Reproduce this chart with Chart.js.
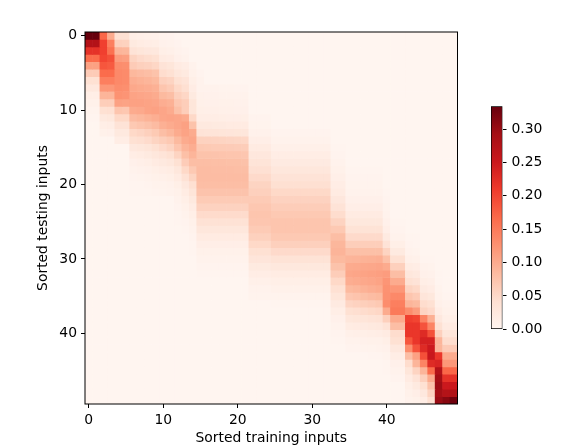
<!DOCTYPE html>
<html>
<head>
<meta charset="utf-8">
<script src="https://cdn.jsdelivr.net/npm/chart.js@4.4.0/dist/chart.umd.min.js"></script>
<style>
  html, body { margin: 0; padding: 0; background: #fff; }
  #wrap { position: relative; width: 574px; height: 447px; }
  #heat { position: absolute; left: 0; top: 0; }
  #cbar { position: absolute; left: 470px; top: 0; }
</style>
</head>
<body>
<div id="wrap">
  <canvas id="heat" width="574" height="447"></canvas>
  <canvas id="cbar" width="104" height="447"></canvas>
</div>
<script>

// attention weights, one row per sorted testing input.
// each row keeps only its visible band: first column + values, the rest is 0
var nTrain = 50;
var nTest = 50;
var trainTicks = [0, 10, 20, 30, 40];
var testTicks = [0, 10, 20, 30, 40];
var cbarTicks = [0, 0.05, 0.10, 0.15, 0.20, 0.25, 0.30];

var bandStart = [
	0, 0, 0, 0, 0, 0, 0, 0, 0, 0,
	0, 0, 2, 2, 4, 6, 6, 6, 6, 6,
	6, 6, 12, 12, 12, 12, 13, 14, 14, 14,
	15, 15, 15, 22, 22, 22, 25, 33, 33, 33,
	33, 33, 35, 38, 40, 40, 41, 43, 43, 43
];

var bandValues = [
	[0.334,0.334,0.17,0.10,0.04,0.04,0.012,0.01,0.008,0.007,0.004,0.003],
	[0.277,0.277,0.205,0.145,0.06,0.058,0.022,0.018,0.016,0.014,0.007,0.006,0.003],
	[0.22,0.22,0.205,0.16,0.09,0.088,0.035,0.03,0.027,0.025,0.012,0.01,0.005,0.003],
	[0.165,0.165,0.2,0.19,0.115,0.112,0.055,0.048,0.044,0.04,0.02,0.017,0.009,0.006],
	[0.11,0.11,0.185,0.18,0.13,0.128,0.065,0.06,0.057,0.052,0.035,0.03,0.02,0.016,0.005],
	[0.065,0.065,0.165,0.165,0.135,0.133,0.087,0.083,0.08,0.075,0.045,0.04,0.028,0.022,0.008,0.003],
	[0.04,0.04,0.145,0.145,0.135,0.133,0.097,0.093,0.09,0.085,0.06,0.055,0.04,0.033,0.012,0.005],
	[0.025,0.025,0.12,0.12,0.13,0.128,0.103,0.1,0.098,0.094,0.072,0.066,0.05,0.042,0.017,0.006,0.005,0.005,0.004,0.004,0.003,0.003],
	[0.014,0.014,0.09,0.09,0.125,0.123,0.108,0.106,0.104,0.1,0.085,0.08,0.06,0.052,0.022,0.008,0.007,0.007,0.006,0.006,0.005,0.005],
	[0.008,0.008,0.062,0.062,0.11,0.108,0.11,0.11,0.108,0.106,0.098,0.094,0.07,0.062,0.03,0.01,0.009,0.009,0.008,0.008,0.007,0.007],
	[0.004,0.004,0.04,0.042,0.072,0.07,0.1,0.102,0.108,0.11,0.106,0.1,0.078,0.062,0.03,0.012,0.011,0.011,0.01,0.01,0.009,0.009],
	[0.002,0.002,0.024,0.026,0.05,0.05,0.083,0.087,0.092,0.097,0.105,0.107,0.105,0.1,0.05,0.016,0.015,0.015,0.014,0.013,0.013,0.012,0.003,0.003,0.003],
	[0.014,0.016,0.035,0.035,0.068,0.072,0.077,0.083,0.095,0.1,0.105,0.11,0.075,0.024,0.023,0.022,0.021,0.02,0.02,0.019,0.004,0.004,0.004],
	[0.008,0.009,0.024,0.024,0.05,0.054,0.06,0.067,0.08,0.088,0.1,0.108,0.1,0.035,0.034,0.033,0.032,0.031,0.03,0.029,0.007,0.007,0.007,0.003,0.003,0.003,0.003,0.003,0.003,0.003,0.003],
	[0.016,0.016,0.04,0.043,0.047,0.055,0.062,0.068,0.085,0.1,0.105,0.058,0.057,0.056,0.055,0.054,0.053,0.052,0.013,0.013,0.013,0.006,0.006,0.006,0.006,0.006,0.006,0.006,0.006],
	[0.025,0.028,0.032,0.04,0.048,0.055,0.072,0.09,0.098,0.068,0.067,0.066,0.066,0.065,0.064,0.063,0.02,0.02,0.02,0.01,0.01,0.01,0.01,0.01,0.01,0.01,0.01,0.002,0.002],
	[0.015,0.018,0.022,0.028,0.034,0.04,0.055,0.078,0.09,0.075,0.075,0.074,0.073,0.072,0.072,0.071,0.027,0.027,0.027,0.016,0.016,0.016,0.016,0.016,0.016,0.016,0.016,0.003,0.003],
	[0.009,0.011,0.014,0.019,0.023,0.028,0.04,0.064,0.08,0.08,0.08,0.079,0.079,0.078,0.078,0.077,0.034,0.034,0.034,0.021,0.021,0.021,0.021,0.021,0.021,0.021,0.021,0.005,0.005],
	[0.005,0.007,0.009,0.012,0.015,0.018,0.028,0.05,0.068,0.082,0.082,0.081,0.081,0.081,0.08,0.08,0.041,0.041,0.041,0.028,0.028,0.028,0.028,0.028,0.028,0.028,0.028,0.008,0.008,0.002,0.002,0.002,0.002,0.002],
	[0.003,0.004,0.005,0.008,0.01,0.012,0.02,0.038,0.055,0.082,0.082,0.082,0.082,0.082,0.082,0.082,0.048,0.048,0.048,0.035,0.035,0.035,0.035,0.035,0.035,0.035,0.035,0.011,0.011,0.003,0.003,0.003,0.003,0.003],
	[0.002,0.002,0.003,0.005,0.006,0.007,0.012,0.025,0.042,0.08,0.08,0.08,0.08,0.08,0.08,0.08,0.055,0.055,0.055,0.042,0.042,0.042,0.042,0.042,0.042,0.042,0.042,0.015,0.015,0.004,0.004,0.004,0.004,0.004],
	[0.001,0.001,0.002,0.003,0.004,0.005,0.008,0.018,0.032,0.074,0.074,0.074,0.074,0.074,0.074,0.074,0.06,0.06,0.06,0.05,0.05,0.05,0.05,0.05,0.05,0.05,0.05,0.02,0.02,0.006,0.006,0.006,0.006,0.006,0.002],
	[0.005,0.012,0.024,0.066,0.066,0.066,0.066,0.066,0.066,0.066,0.066,0.066,0.066,0.057,0.057,0.057,0.057,0.057,0.057,0.057,0.057,0.027,0.027,0.009,0.009,0.009,0.009,0.009,0.003],
	[0.003,0.008,0.017,0.057,0.057,0.057,0.057,0.057,0.057,0.057,0.07,0.07,0.07,0.063,0.063,0.063,0.063,0.063,0.063,0.063,0.063,0.035,0.035,0.013,0.013,0.013,0.013,0.013,0.004],
	[0.002,0.005,0.012,0.047,0.047,0.047,0.047,0.047,0.047,0.047,0.072,0.072,0.072,0.068,0.068,0.068,0.068,0.068,0.068,0.068,0.068,0.045,0.045,0.019,0.019,0.019,0.019,0.019,0.006],
	[0.001,0.003,0.008,0.037,0.037,0.037,0.037,0.037,0.037,0.037,0.071,0.071,0.071,0.072,0.072,0.072,0.072,0.072,0.072,0.072,0.072,0.056,0.056,0.026,0.026,0.026,0.026,0.026,0.009,0.002,0.002],
	[0.002,0.005,0.028,0.028,0.028,0.028,0.028,0.028,0.028,0.066,0.066,0.066,0.072,0.072,0.072,0.072,0.072,0.072,0.072,0.072,0.068,0.068,0.036,0.036,0.036,0.036,0.036,0.013,0.003,0.003],
	[0.003,0.02,0.02,0.02,0.02,0.02,0.02,0.02,0.059,0.059,0.059,0.068,0.068,0.068,0.068,0.068,0.068,0.068,0.068,0.08,0.08,0.048,0.048,0.048,0.048,0.048,0.021,0.006,0.006,0.001,0.001],
	[0.002,0.013,0.013,0.013,0.013,0.013,0.013,0.013,0.05,0.05,0.05,0.06,0.06,0.06,0.06,0.06,0.06,0.06,0.06,0.088,0.088,0.062,0.062,0.062,0.062,0.062,0.035,0.012,0.012,0.003,0.002],
	[0.001,0.008,0.008,0.008,0.008,0.008,0.008,0.008,0.04,0.04,0.04,0.048,0.048,0.048,0.048,0.048,0.048,0.048,0.048,0.091,0.091,0.078,0.078,0.078,0.078,0.078,0.055,0.022,0.022,0.005,0.004],
	[0.005,0.005,0.005,0.005,0.005,0.005,0.005,0.031,0.031,0.031,0.036,0.036,0.036,0.036,0.036,0.036,0.036,0.036,0.085,0.085,0.09,0.091,0.093,0.094,0.096,0.078,0.04,0.04,0.01,0.008,0.002,0.002],
	[0.003,0.003,0.003,0.003,0.003,0.003,0.003,0.022,0.022,0.022,0.026,0.026,0.026,0.026,0.026,0.026,0.026,0.026,0.075,0.075,0.1,0.101,0.103,0.104,0.106,0.1,0.06,0.06,0.018,0.015,0.005,0.004],
	[0.002,0.002,0.002,0.002,0.002,0.002,0.002,0.015,0.015,0.015,0.018,0.018,0.018,0.018,0.018,0.018,0.018,0.018,0.063,0.063,0.104,0.106,0.108,0.11,0.112,0.115,0.08,0.08,0.028,0.024,0.009,0.007,0.001],
	[0.01,0.01,0.01,0.012,0.012,0.012,0.012,0.012,0.012,0.012,0.012,0.05,0.05,0.098,0.1,0.103,0.105,0.108,0.122,0.1,0.1,0.04,0.035,0.014,0.011,0.002],
	[0.006,0.006,0.006,0.008,0.008,0.008,0.008,0.008,0.008,0.008,0.008,0.04,0.04,0.085,0.088,0.093,0.097,0.1,0.125,0.12,0.12,0.055,0.05,0.021,0.017,0.004],
	[0.004,0.004,0.004,0.004,0.004,0.004,0.004,0.004,0.004,0.004,0.004,0.03,0.03,0.07,0.073,0.078,0.082,0.085,0.126,0.135,0.135,0.072,0.066,0.031,0.026,0.006,0.002,0.002],
	[0.002,0.002,0.002,0.002,0.002,0.002,0.002,0.002,0.021,0.021,0.054,0.057,0.061,0.064,0.068,0.13,0.145,0.145,0.09,0.085,0.045,0.04,0.01,0.005,0.005],
	[0.014,0.014,0.04,0.043,0.046,0.049,0.052,0.1,0.15,0.15,0.13,0.115,0.055,0.048,0.015,0.008,0.008],
	[0.009,0.009,0.028,0.03,0.032,0.035,0.037,0.06,0.1,0.1,0.205,0.2,0.14,0.095,0.025,0.012,0.012],
	[0.005,0.005,0.018,0.019,0.021,0.023,0.025,0.035,0.08,0.08,0.215,0.215,0.187,0.14,0.04,0.02,0.02],
	[0.003,0.003,0.01,0.011,0.012,0.014,0.015,0.02,0.045,0.045,0.215,0.215,0.228,0.19,0.06,0.03,0.03],
	[0.002,0.002,0.006,0.006,0.007,0.008,0.008,0.012,0.04,0.04,0.185,0.215,0.24,0.24,0.09,0.045,0.045],
	[0.003,0.003,0.004,0.004,0.005,0.007,0.025,0.025,0.13,0.187,0.228,0.249,0.09,0.065,0.065],
	[0.002,0.002,0.004,0.015,0.015,0.08,0.11,0.19,0.254,0.215,0.1,0.1],
	[0.002,0.009,0.009,0.045,0.09,0.14,0.228,0.235,0.12,0.12],
	[0.001,0.005,0.005,0.03,0.055,0.09,0.165,0.277,0.17,0.17],
	[0.003,0.003,0.02,0.035,0.06,0.1,0.292,0.22,0.22],
	[0.012,0.022,0.04,0.075,0.297,0.25,0.25],
	[0.008,0.013,0.025,0.055,0.292,0.276,0.28],
	[0.005,0.008,0.015,0.04,0.3,0.312,0.328]
];

// matplotlib "Reds"
var redsStops = [
	[255,245,240], [254,224,210], [252,187,161], [252,146,114], [251,106,74],
	[239,59,44], [203,24,29], [165,15,21], [103,0,13]
];

var weights = [];
for (var r = 0; r < nTest; r++) {
	var row = [];
	for (var c = 0; c < nTrain; c++) row.push(0);
	bandValues[r].forEach(function (v, i) { row[bandStart[r] + i] = v; });
	weights.push(row);
}
var vmax = Math.max.apply(null, weights.map(function (row) { return Math.max.apply(null, row); }));

function redsColor(v) {
	var t = Math.max(0, Math.min(1, v / vmax)) * (redsStops.length - 1);
	var i = Math.min(Math.floor(t), redsStops.length - 2);
	var f = t - i;
	var a = redsStops[i], b = redsStops[i + 1];
	return 'rgb(' + Math.round(a[0] + (b[0] - a[0]) * f) + ',' +
		Math.round(a[1] + (b[1] - a[1]) * f) + ',' +
		Math.round(a[2] + (b[2] - a[2]) * f) + ')';
}

Chart.defaults.font.family = 'DejaVu Sans';
Chart.defaults.font.size = 13.9;
Chart.defaults.color = '#000';

var fontSpec = { family: 'DejaVu Sans', size: 13.9 };

var frame = {
	id: 'frame',
	afterDraw: function (chart) {
		var a = chart.chartArea, ctx = chart.ctx;
		ctx.save();
		ctx.strokeStyle = '#000';
		ctx.lineWidth = 1;
		ctx.strokeRect(a.left, a.top, a.right - a.left, a.bottom - a.top);
		ctx.restore();
	}
};

// one floating-bar dataset per testing row
var heatDatasets = weights.map(function (row, r) {
	return {
		data: row.map(function (v, c) { return { x: c, y: [r - 0.5, r + 0.5] }; }),
		backgroundColor: row.map(redsColor),
		borderWidth: 0,
		grouped: false,
		barPercentage: 1,
		categoryPercentage: 1
	};
});

new Chart(document.getElementById('heat'), {
	type: 'bar',
	data: { datasets: heatDatasets },
	options: {
		responsive: false,
		animation: false,
		events: [],
		layout: { padding: { left: 0, top: 32, right: 116.5, bottom: 0 } },
		plugins: { legend: { display: false }, tooltip: { enabled: false } },
		scales: {
			x: {
				type: 'linear',
				min: -0.5,
				max: nTrain - 0.5,
				offset: false,
				afterBuildTicks: function (s) { s.ticks = trainTicks.map(function (v) { return { value: v }; }); },
				afterFit: function (s) { s.height = 43; },
				grid: { offset: false, drawOnChartArea: false, drawTicks: true, tickLength: 4, tickColor: '#000' },
				border: { display: false },
				ticks: { font: fontSpec, color: '#000', padding: 4, maxRotation: 0, autoSkip: false },
				title: { display: true, text: 'Sorted training inputs', font: fontSpec, color: '#000', padding: { top: 0, bottom: 0 } }
			},
			y: {
				type: 'linear',
				reverse: true,
				min: -0.5,
				max: nTest - 0.5,
				afterBuildTicks: function (s) { s.ticks = testTicks.map(function (v) { return { value: v }; }); },
				afterFit: function (s) { s.width = 85; },
				grid: { offset: false, drawOnChartArea: false, drawTicks: true, tickLength: 4, tickColor: '#000' },
				border: { display: false },
				ticks: { font: fontSpec, color: '#000', padding: 4, autoSkip: false },
				title: { display: true, text: 'Sorted testing inputs', font: fontSpec, color: '#000', padding: { top: 35.4, bottom: 0 } }
			}
		}
	},
	plugins: [frame]
});

// colorbar
new Chart(document.getElementById('cbar'), {
	type: 'bar',
	data: {
		labels: ['weight'],
		datasets: [{
			data: [[0, vmax]],
			backgroundColor: function (ctx) {
				var a = ctx.chart.chartArea;
				if (!a) return null;
				var g = ctx.chart.ctx.createLinearGradient(0, a.bottom, 0, a.top);
				redsStops.forEach(function (s, i) {
					g.addColorStop(i / (redsStops.length - 1), 'rgb(' + s.join(',') + ')');
				});
				return g;
			},
			borderColor: '#000',
			borderWidth: 1,
			borderSkipped: false,
			barPercentage: 1,
			categoryPercentage: 1
		}]
	},
	options: {
		responsive: false,
		animation: false,
		events: [],
		layout: { padding: { left: 21, top: 106.3, right: 0, bottom: 117.7 } },
		plugins: { legend: { display: false }, tooltip: { enabled: false } },
		scales: {
			x: { display: false },
			y: {
				position: 'right',
				min: 0,
				max: vmax,
				afterBuildTicks: function (s) { s.ticks = cbarTicks.map(function (v) { return { value: v }; }); },
				afterFit: function (s) { s.width = 71.5; },
				grid: { drawOnChartArea: false, drawTicks: true, tickLength: 4, tickColor: '#000' },
				border: { display: false },
				ticks: {
					font: fontSpec, color: '#000', padding: 5,
					callback: function (v) { return Number(v).toFixed(2); }
				}
			}
		}
	}
});

</script>
</body>
</html>
